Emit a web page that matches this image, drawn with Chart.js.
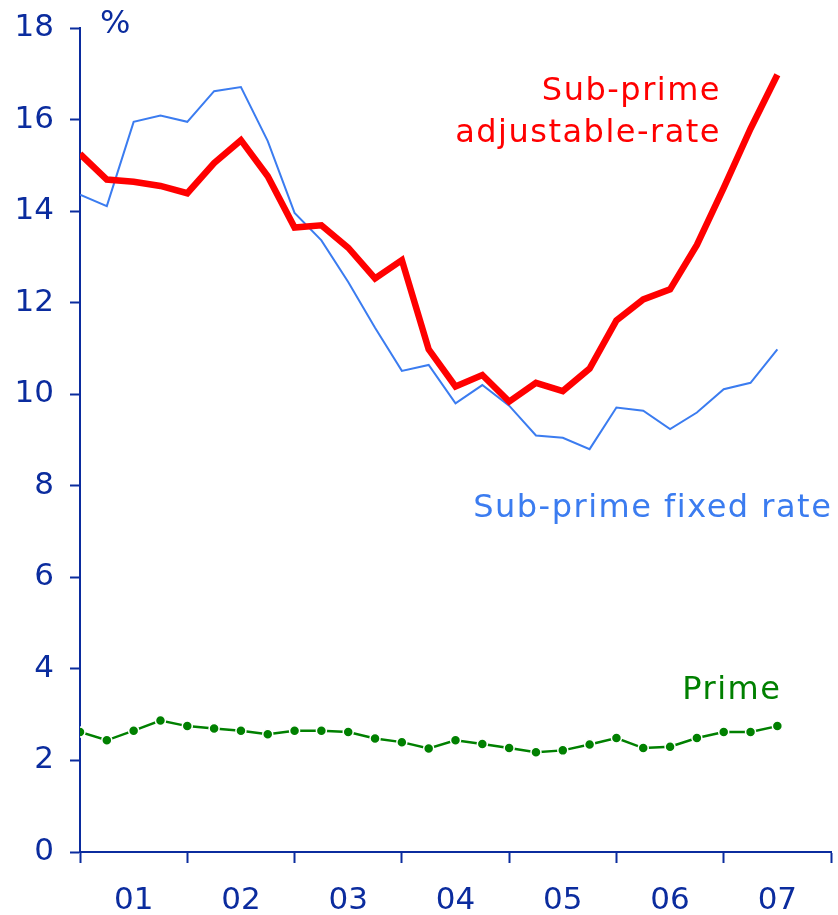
<!DOCTYPE html>
<html>
<head>
<meta charset="utf-8">
<script src="https://cdn.jsdelivr.net/npm/chart.js@4.4.0/dist/chart.umd.min.js"></script>
<style>
  html, body { margin: 0; padding: 0; background: #fff; overflow: hidden; }
  canvas { display: block; }
</style>
</head>
<body>
<canvas id="chart" width="838" height="915"></canvas>
<script>
// Quarterly mortgage delinquency-style rates, 2001 Q1 .. 2007 Q3 (x = quarter index)
const yearLabels = ['01', '02', '03', '04', '05', '06', '07'];
const yTicks = [0, 2, 4, 6, 8, 10, 12, 14, 16, 18];

const subPrimeAdj = [15.25, 14.69, 14.64, 14.55, 14.39, 15.05, 15.55, 14.76, 13.64, 13.69,
  13.20, 12.53, 12.93, 10.98, 10.17, 10.42, 9.84, 10.25, 10.07, 10.56,
  11.61, 12.07, 12.29, 13.26, 14.51, 15.80, 16.98];
const subPrimeFixed = [14.36, 14.11, 15.95, 16.09, 15.95, 16.62, 16.71, 15.53, 13.96, 13.36,
  12.45, 11.45, 10.51, 10.64, 9.80, 10.20, 9.75, 9.10, 9.05, 8.80,
  9.71, 9.64, 9.24, 9.60, 10.11, 10.25, 10.98];
const prime = [2.62, 2.44, 2.65, 2.87, 2.75, 2.70, 2.65, 2.57, 2.65, 2.65,
  2.62, 2.48, 2.40, 2.26, 2.44, 2.36, 2.27, 2.18, 2.22, 2.35,
  2.49, 2.27, 2.30, 2.49, 2.62, 2.62, 2.75];

const AXIS = '#0b2c9e';
const RED = '#ff0000';
const BLUE = '#3b7cf0';
const GREEN = '#008000';
const FONT = '"DejaVu Sans", Verdana, sans-serif';

const toXY = arr => arr.map((v, i) => ({ x: i, y: v }));

// series labels, anchored in data units
const seriesLabels = [
  { lines: ['Sub-prime', 'adjustable-rate'], x: 23.9, y: 16.6, step: 0.9, color: RED },
  { lines: ['Sub-prime fixed rate'], x: 28.05, y: 7.5, step: 0, color: BLUE },
  { lines: ['Prime'], x: 26.15, y: 3.53, step: 0, color: GREEN }
];

const labelPlugin = {
  id: 'seriesLabels',
  afterDraw(chart) {
    const { ctx, scales: { x, y } } = chart;
    ctx.save();
    ctx.font = '32px ' + FONT;
    ctx.letterSpacing = '1.5px';
    ctx.textAlign = 'right';
    ctx.textBaseline = 'middle';
    seriesLabels.forEach(l => {
      ctx.fillStyle = l.color;
      l.lines.forEach((t, i) => {
        ctx.fillText(t, x.getPixelForValue(l.x), y.getPixelForValue(l.y - i * l.step));
      });
    });
    // unit label
    ctx.fillStyle = AXIS;
    ctx.textAlign = 'left';
    ctx.letterSpacing = '0px';
    ctx.fillText('%', x.getPixelForValue(0) + 20, y.getPixelForValue(18) - 3);
    ctx.restore();
  }
};

new Chart(document.getElementById('chart'), {
  type: 'line',
  data: {
    datasets: [
      {
        data: toXY(subPrimeAdj),
        borderColor: RED,
        borderWidth: 6.5,
        pointRadius: 0,
        borderJoinStyle: 'miter',
        tension: 0
      },
      {
        data: toXY(subPrimeFixed),
        borderColor: BLUE,
        borderWidth: 2,
        pointRadius: 0,
        tension: 0
      },
      {
        data: toXY(prime),
        borderColor: GREEN,
        borderWidth: 2.5,
        pointRadius: 5,
        pointBackgroundColor: GREEN,
        pointBorderColor: '#ffffff',
        pointBorderWidth: 1.5,
        tension: 0
      }
    ]
  },
  options: {
    responsive: false,
    devicePixelRatio: 1,
    animation: false,
    layout: { padding: { top: 28, right: 7, left: 0, bottom: 0 } },
    plugins: {
      legend: { display: false },
      tooltip: { enabled: false }
    },
    scales: {
      x: {
        type: 'linear',
        min: 0,
        max: 28,
        afterFit: s => {
          s.height = 63;
          s.paddingLeft = 0;
          s.paddingRight = 0;
        },
        border: { color: AXIS, width: 2 },
        grid: {
          drawOnChartArea: false,
          drawTicks: true,
          tickLength: 11,
          tickWidth: 2,
          color: c => (c.tick && c.tick.value % 4 === 0) ? AXIS : 'rgba(0,0,0,0)'
        },
        ticks: {
          stepSize: 2,
          autoSkip: false,
          maxRotation: 0,
          padding: 19,
          color: AXIS,
          font: { family: FONT, size: 31 },
          callback: v => (v % 4 === 2) ? yearLabels[(v - 2) / 4] : ''
        }
      },
      y: {
        min: 0,
        max: 18,
        afterFit: s => {
          s.width = 80;
          s.paddingTop = 0;
          s.paddingBottom = 0;
        },
        afterBuildTicks: s => { s.ticks = yTicks.map(v => ({ value: v })); },
        border: { color: AXIS, width: 2 },
        grid: {
          drawOnChartArea: false,
          drawTicks: true,
          tickLength: 10,
          tickWidth: 2,
          color: AXIS
        },
        ticks: {
          padding: 16,
          color: AXIS,
          font: { family: FONT, size: 31 }
        }
      }
    }
  },
  plugins: [labelPlugin]
});
</script>
</body>
</html>
